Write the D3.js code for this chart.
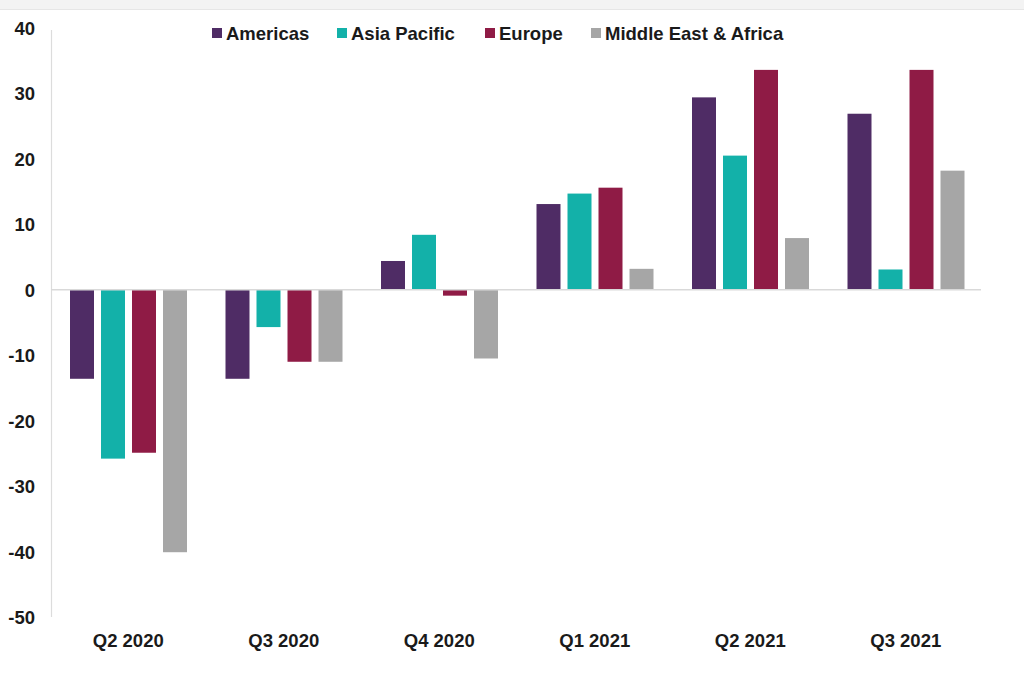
<!DOCTYPE html>
<html><head><meta charset="utf-8">
<script src="https://cdn.jsdelivr.net/npm/d3@7"></script>
<style>
html,body{margin:0;padding:0;background:#fff;}
svg{display:block;font-family:"Liberation Sans",Arial,sans-serif;font-weight:bold;}
</style></head>
<body>
<svg id="c" width="1024" height="693"></svg>
<script>
const categories = ["Q2 2020","Q3 2020","Q4 2020","Q1 2021","Q2 2021","Q3 2021"];
const seriesNames = ["Americas","Asia Pacific","Europe","Middle East & Africa"];
const americas = [-13.6,-13.6,4.4,13.1,29.4,26.9];
const asiaPacific = [-25.8,-5.7,8.4,14.7,20.5,3.1];
const europe = [-24.9,-11.0,-0.9,15.6,33.6,33.6];
const mea = [-40.1,-11.0,-10.5,3.2,7.9,18.2];
const yTicks = [40,30,20,10,0,-10,-20,-30,-40,-50];
const colors = ["#4f2c65","#13b1a9","#8f1b45","#a6a6a6"];
const seriesValues = [americas, asiaPacific, europe, mea];

const svg = d3.select("#c");
// top strip artifact
svg.append("rect").attr("x",0).attr("y",0).attr("width",1024).attr("height",9).attr("fill","#f3f3f3");
svg.append("line").attr("x1",0).attr("x2",1024).attr("y1",9.5).attr("y2",9.5).attr("stroke","#e6e6e6");

const y = d3.scaleLinear().domain([-50,40]).range([617,28]);
const x0 = d3.scaleBand().domain(categories).range([50.5,983.5]).padding(0);
const x1 = d3.scaleBand().domain(seriesNames).range([19.5, x0.bandwidth()-19]).paddingInner(0.226).paddingOuter(0);

// y axis line
svg.append("line").attr("x1",51.5).attr("x2",51.5).attr("y1",y(40)+2).attr("y2",y(-50))
  .attr("stroke","#dcdcdc").attr("stroke-width",1.2);

// bars
const g = svg.append("g");
categories.forEach((cat,i)=>{
  seriesNames.forEach((s,j)=>{
    const v = seriesValues[j][i];
    g.append("rect")
      .attr("x", x0(cat)+x1(s))
      .attr("width", x1.bandwidth())
      .attr("y", y(Math.max(0,v)))
      .attr("height", Math.abs(y(v)-y(0)))
      .attr("fill", colors[j]);
  });
});

// zero line
svg.append("line").attr("x1",51).attr("x2",981).attr("y1",y(0)).attr("y2",y(0))
  .attr("stroke","#d9d9d9").attr("stroke-width",1.5);

// y labels
const yAxis = d3.axisLeft(y).tickValues(yTicks).tickSize(0).tickPadding(0).tickFormat(d => String(d));
const ya = svg.append("g").attr("transform","translate(35,0)").call(yAxis);
ya.select(".domain").remove();
ya.selectAll("text").attr("font-size",18.5).attr("font-weight","bold").attr("fill","#1a1a1a")
  .attr("font-family","Liberation Sans, Arial, sans-serif").attr("dy","0.35em");

// x labels
const xAxis = d3.axisBottom(x0).tickSize(0).tickPadding(0);
const xa = svg.append("g").attr("transform","translate(0,633)").call(xAxis);
xa.select(".domain").remove();
xa.selectAll("text").attr("font-size",18.5).attr("font-weight","bold").attr("fill","#1a1a1a")
  .attr("font-family","Liberation Sans, Arial, sans-serif").attr("dy","0.75em");

// legend
const legendX = [212,337,485,591];
const lg = svg.append("g");
seriesNames.forEach((s,j)=>{
  lg.append("rect").attr("x",legendX[j]).attr("y",28).attr("width",10).attr("height",10).attr("fill",colors[j]);
  lg.append("text").attr("x",legendX[j]+14).attr("y",33).attr("dy","0.36em")
    .attr("font-size",18.5).attr("fill","#1a1a1a").text(s);
});
</script>
</body></html>
